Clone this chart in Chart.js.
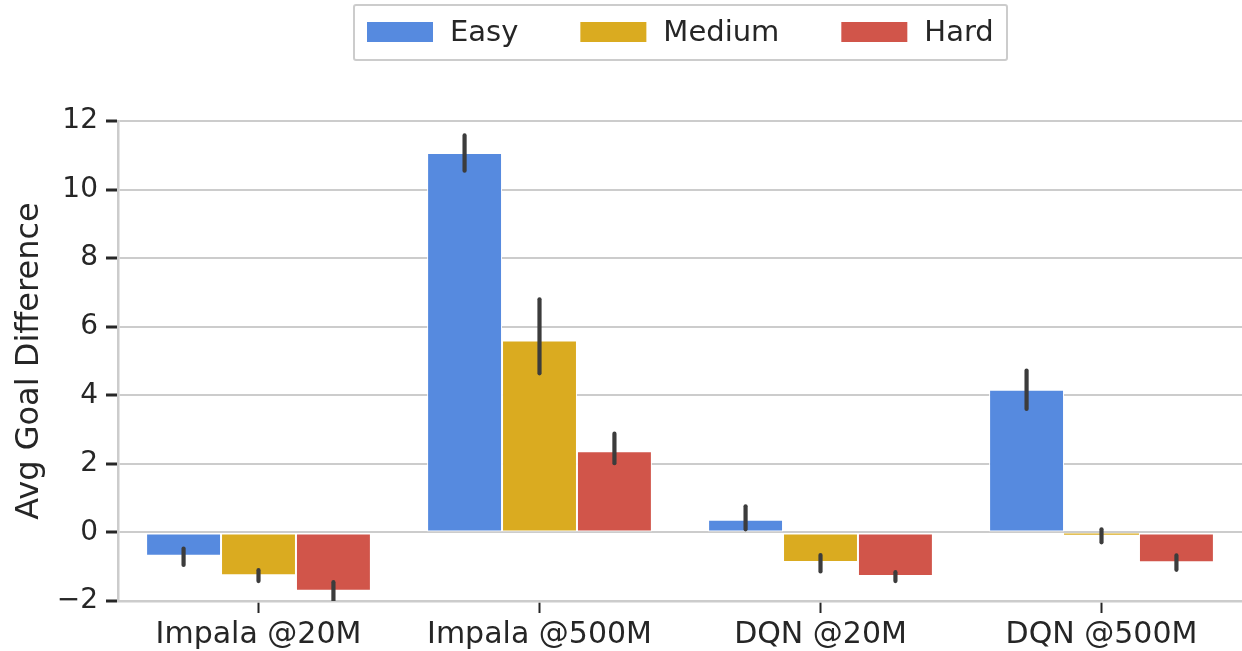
<!DOCTYPE html>
<html>
<head>
<meta charset="utf-8">
<script src="https://cdn.jsdelivr.net/npm/chart.js@4/dist/chart.umd.min.js"></script>
<style>
  html, body { margin: 0; padding: 0; background: #ffffff; }
  #wrap { width: 1242px; height: 651px; }
</style>
</head>
<body>
<div id="wrap"><canvas id="c" width="1242" height="651"></canvas></div>
<script>
const categories = ['Impala @20M', 'Impala @500M', 'DQN @20M', 'DQN @500M'];
const seriesNames = ['Easy', 'Medium', 'Hard'];
const easy   = [-0.68, 11.07, 0.37, 4.16];
const medium = [-1.25, 5.60, -0.86, -0.07];
const hard   = [-1.70, 2.37, -1.27, -0.87];
const easyLo   = [-0.95, 10.55, 0.09, 3.60];
const easyHi   = [-0.47, 11.58, 0.76, 4.72];
const mediumLo = [-1.42, 4.64, -1.14, -0.29];
const mediumHi = [-1.10, 6.80, -0.66, 0.09];
const hardLo   = [-2.10, 2.02, -1.42, -1.09];
const hardHi   = [-1.45, 2.88, -1.16, -0.67];
const yTicks = [-2, 0, 2, 4, 6, 8, 10, 12];
const yTickLabels = ['\u22122', '0', '2', '4', '6', '8', '10', '12'];

const colors = ['#568ADF', '#DAAB20', '#D1554A'];
const textColor = '#262626';
const FONT = 'DejaVu Sans';

const errLo = [easyLo, mediumLo, hardLo];
const errHi = [easyHi, mediumHi, hardHi];

const errorBars = {
  id: 'errorBars',
  afterDatasetsDraw(chart) {
    const ctx = chart.ctx;
    const y = chart.scales.y;
    const a = chart.chartArea;
    ctx.save();
    ctx.beginPath();
    ctx.rect(a.left, a.top - 20, a.right - a.left, a.bottom - a.top + 20);
    ctx.clip();
    ctx.strokeStyle = '#3c3c3c';
    ctx.lineWidth = 4.2;
    ctx.lineCap = 'round';
    chart.data.datasets.forEach((ds, di) => {
      const meta = chart.getDatasetMeta(di);
      meta.data.forEach((bar, i) => {
        ctx.beginPath();
        ctx.moveTo(bar.x, y.getPixelForValue(errLo[di][i]));
        ctx.lineTo(bar.x, y.getPixelForValue(errHi[di][i]));
        ctx.stroke();
      });
    });
    ctx.restore();
  }
};

const boxLegend = {
  id: 'boxLegend',
  afterDraw(chart) {
    const ctx = chart.ctx;
    ctx.save();
    ctx.fillStyle = '#ffffff';
    ctx.strokeStyle = '#cccccc';
    ctx.lineWidth = 2;
    ctx.beginPath();
    ctx.roundRect(354, 5, 653, 55, 2);
    ctx.fill();
    ctx.stroke();
    ctx.font = '29px "' + FONT + '"';
    ctx.textBaseline = 'middle';
    ctx.textAlign = 'left';
    let x = 367;
    chart.data.datasets.forEach((ds) => {
      ctx.fillStyle = ds.backgroundColor;
      ctx.fillRect(x, 22, 66, 20);
      ctx.fillStyle = textColor;
      ctx.fillText(ds.label, x + 83, 33);
      x += 83 + ctx.measureText(ds.label).width + 62;
    });
    ctx.restore();
  }
};

const values = [easy, medium, hard];
new Chart(document.getElementById('c'), {
  type: 'bar',
  data: {
    labels: categories,
    datasets: seriesNames.map((n, i) => ({
      label: n,
      data: values[i],
      backgroundColor: colors[i],
      borderColor: '#ffffff',
      borderWidth: (c) => (Math.abs(c.raw) < 0.2 ? 0 : 1),
      borderSkipped: false,
      categoryPercentage: 0.8,
      barPercentage: 1.0
    }))
  },
  options: {
    responsive: false,
    animation: false,
    layout: { padding: { top: 121, right: 0, bottom: 0, left: 0 } },
    plugins: { legend: { display: false }, tooltip: { enabled: false } },
    scales: {
      x: {
        offset: true,
        grid: { display: true, drawOnChartArea: false, offset: false, tickLength: 12, tickColor: textColor, tickWidth: 2 },
        border: { display: true, color: '#cccccc', width: 2.5 },
        ticks: { color: textColor, font: { family: FONT, size: 30 }, padding: 4, maxRotation: 0 },
        afterFit(s) { s.height = 50; }
      },
      y: {
        min: -2, max: 12,
        afterBuildTicks(s) { s.ticks = yTicks.map(v => ({ value: v })); },
        grid: { color: '#cccccc', lineWidth: 2, tickLength: 12, tickColor: textColor, tickWidth: 3 },
        border: { display: true, color: '#cccccc', width: 2.5 },
        ticks: {
          color: textColor, font: { family: FONT, size: 28 }, padding: 8,
          callback: (v) => yTickLabels[yTicks.indexOf(v)]
        },
        title: { display: true, text: 'Avg Goal Difference', color: textColor, font: { family: FONT, size: 32 }, padding: { top: 10, bottom: 0 } },
        afterFit(s) { s.width = 118; }
      }
    }
  },
  plugins: [errorBars, boxLegend]
});
</script>
</body>
</html>
